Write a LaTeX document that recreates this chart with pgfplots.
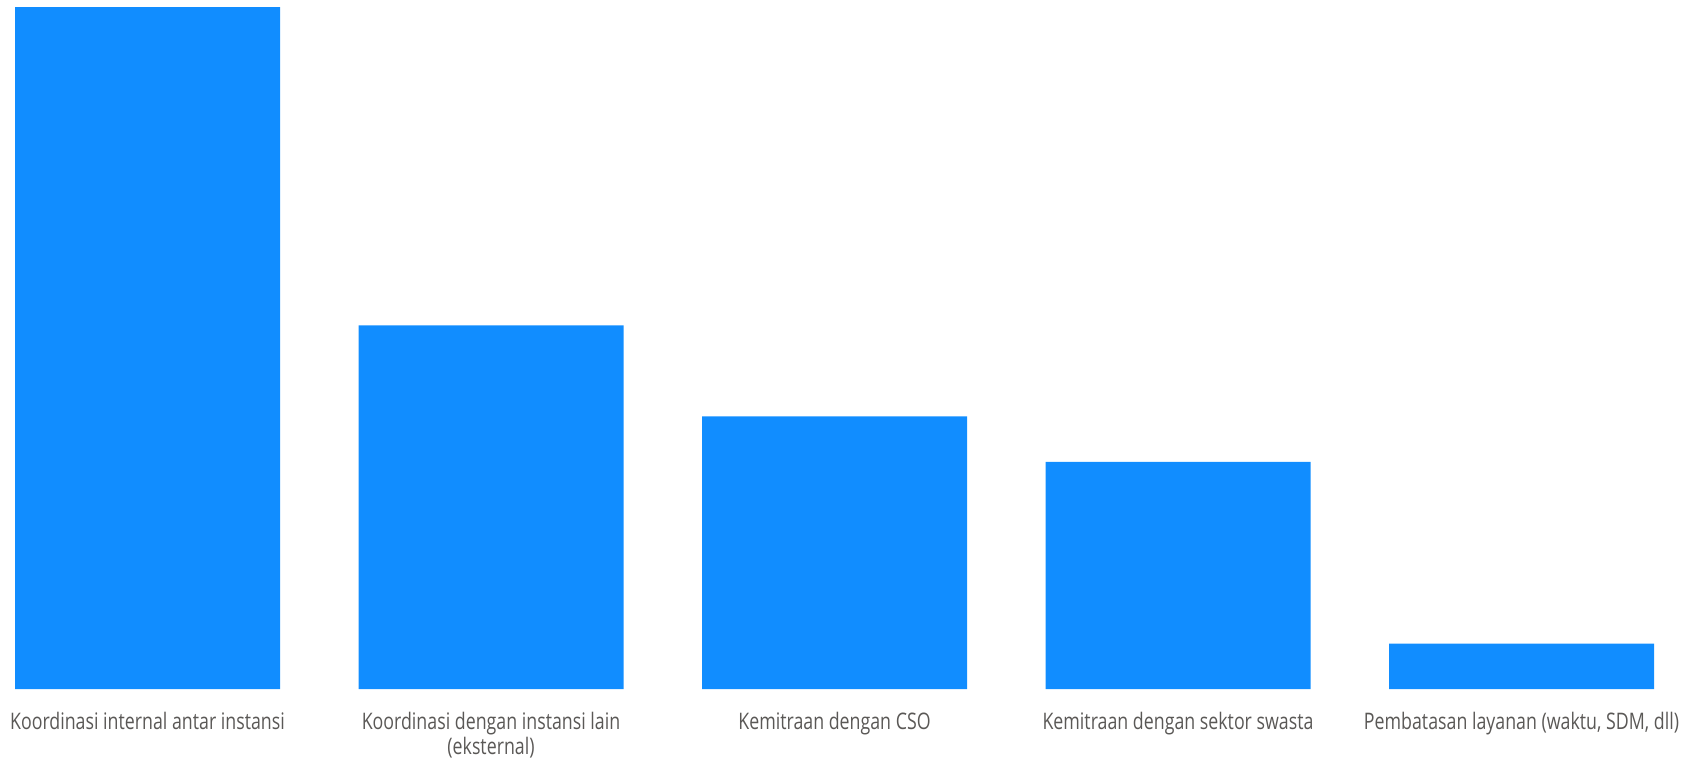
\documentclass[border=0pt]{standalone}
\usepackage{pgfplots}
\pgfplotsset{compat=1.18}
\usepackage{fontspec}
\setmainfont{Open Sans}
\newfontfamily\labfont[FakeStretch=0.78]{Open Sans}
\definecolor{barblue}{HTML}{118DFF}
\definecolor{labgray}{HTML}{5A5856}
\begin{document}
\begin{tikzpicture}
\begin{axis}[
  scale only axis,
  width=844pt, height=344.5pt,
  xmin=-0.4294, xmax=4.4847,
  ymin=0, ymax=15.15,
  axis line style={draw=none},
  ytick=\empty,
  xtick={0,1,2,3,4},
  xticklabels={Koordinasi internal antar instansi,Koordinasi dengan instansi lain\\(eksternal),Kemitraan dengan CSO,Kemitraan dengan sektor swasta,{Pembatasan layanan (waktu, SDM, dll)}},
  major tick length=0pt,
  xticklabel style={font=\labfont\fontsize{11.4}{12.6}\selectfont, text=labgray, align=center, yshift=-7.8pt},
  ybar, bar width=132.5pt,
  clip=false,
]
\addplot[fill=barblue, draw=none] coordinates {(0,15) (1,8) (2,6) (3,5) (4,1)};
\end{axis}
\end{tikzpicture}
\end{document}
